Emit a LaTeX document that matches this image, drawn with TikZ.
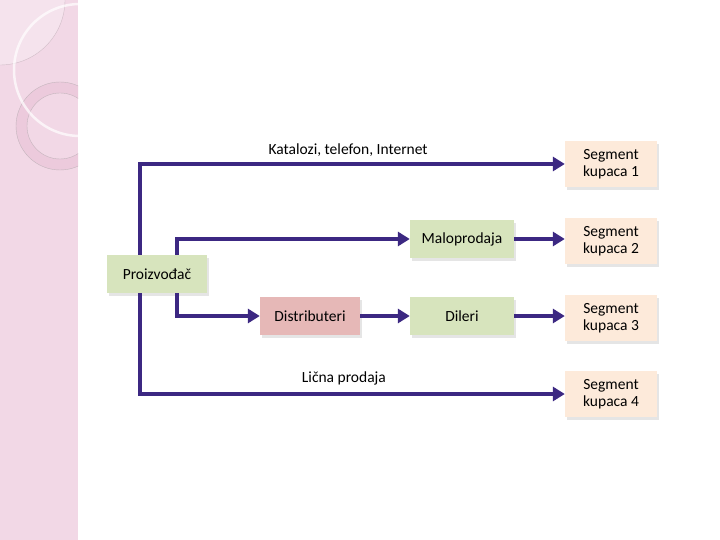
\documentclass[tikz,border=0pt]{standalone}
\usepackage{fontspec}
\setmainfont{Carlito}
\usetikzlibrary{arrows.meta,shadows}

\definecolor{flowblue}{RGB}{60,40,130}
\definecolor{boxgreen}{RGB}{215,228,189}
\definecolor{boxrose}{RGB}{230,184,183}
\definecolor{boxpeach}{RGB}{253,234,218}
\definecolor{stripbg}{RGB}{242,216,230}
\definecolor{stripring}{RGB}{236,202,220}

\tikzset{
  box/.style={rectangle, minimum width=100pt, minimum height=38pt, inner sep=2pt,
    align=center, font=\fontsize{15.5}{17}\selectfont,
    drop shadow={shadow xshift=1.5pt, shadow yshift=-3pt, opacity=0.2, fill=gray}},
  greenbox/.style={box, fill=boxgreen},
  rosebox/.style={box, fill=boxrose},
  segbox/.style={box, fill=boxpeach, minimum width=92pt, minimum height=46pt},
  flow/.style={draw=flowblue, line width=3.5pt, -{Triangle[length=12pt,width=14pt]}},
  flowlabel/.style={font=\fontsize{15.5}{17}\selectfont}
}

\begin{document}
\begin{tikzpicture}[x=1pt, y=-1pt]
    \useasboundingbox (0,0) rectangle (720,540);
    \fill[white] (0,0) rectangle (720,540);

    % ukrasna traka lijevo
    \begin{scope}
        \clip (0,0) rectangle (78,540);
        \fill[stripbg] (0,0) rectangle (78,540);
        \fill[white, opacity=0.3] (0,0) circle (65);
        \draw[stripbg!70!gray, line width=0.4pt] (0,0) circle (65);
        \fill[stripring, even odd rule] (60,126) circle (44) (60,126) circle (33);
        \draw[stripbg!60!gray, line width=0.4pt] (60,126) circle (44) (60,126) circle (33);
        \draw[white, line width=2.5pt, opacity=0.7] (80,70) circle (66);
    \end{scope}

    % cvorovi
    \node[greenbox] (prod) at (157,274) {Proizvođač};
    \node[greenbox, minimum width=104pt] (malo) at (462,239) {Maloprodaja};
    \node[rosebox] (dist) at (310,316) {Distributeri};
    \node[greenbox, minimum width=104pt] (dil) at (462,316) {Dileri};
    \node[segbox] (seg1) at (611,164) {Segment\\kupaca 1};
    \node[segbox] (seg2) at (611,241) {Segment\\kupaca 2};
    \node[segbox] (seg3) at (611,318) {Segment\\kupaca 3};
    \node[segbox] (seg4) at (611,394) {Segment\\kupaca 4};

    % kanali
    \draw[flow] ([xshift=-17pt]prod.north) |- (seg1)
        node[flowlabel, pos=0.745, above=2pt] {Katalozi, telefon, Internet};
    \draw[flow] ([xshift=20pt]prod.north) |- (malo);
    \draw[flow] (malo.east) -- (seg2.west |- malo.east);
    \draw[flow] ([xshift=20pt]prod.south) |- (dist);
    \draw[flow] (dist) -- (dil);
    \draw[flow] (dil.east) -- (seg3.west |- dil.east);
    \draw[flow] ([xshift=-17pt]prod.south) |- (seg4)
        node[flowlabel, pos=0.74, above=4pt] {Lična prodaja};
\end{tikzpicture}
\end{document}
